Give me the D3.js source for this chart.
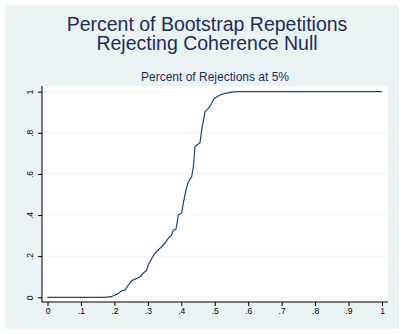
<!DOCTYPE html>
<html>
<head>
<meta charset="utf-8">
<script src="https://cdn.jsdelivr.net/npm/d3@7"></script>
<style>
  html, body { margin: 0; padding: 0; background: #ffffff; }
  svg { display: block; font-family: "Liberation Sans", Arial, sans-serif; }
</style>
</head>
<body>
<svg id="chart" width="404" height="334"></svg>
<script>
// Size of the test (x) and share of bootstrap repetitions rejecting the null at 5% (y)
const testSize = [0, 0.10, 0.17, 0.19, 0.202, 0.212, 0.222, 0.232, 0.242, 0.252, 0.267, 0.277,
  0.286, 0.296, 0.301, 0.312, 0.321, 0.331, 0.341, 0.351, 0.361, 0.371, 0.376, 0.384,
  0.388, 0.391, 0.401, 0.406, 0.414, 0.421, 0.431, 0.436, 0.441, 0.456, 0.461, 0.471,
  0.481, 0.491, 0.499, 0.516, 0.531, 0.555, 0.575, 0.70, 1.0];
const rejectShare = [0, 0, 0, 0.003, 0.011, 0.019, 0.032, 0.036, 0.060, 0.081, 0.092, 0.100,
  0.117, 0.130, 0.157, 0.190, 0.214, 0.230, 0.246, 0.263, 0.287, 0.303, 0.327, 0.331,
  0.368, 0.400, 0.410, 0.457, 0.522, 0.562, 0.587, 0.635, 0.733, 0.752, 0.814, 0.903,
  0.919, 0.944, 0.968, 0.984, 0.992, 0.999, 1.0, 1.0, 1.0];

const xTicks = [0, 0.1, 0.2, 0.3, 0.4, 0.5, 0.6, 0.7, 0.8, 0.9, 1];
const yTicks = [0, 0.2, 0.4, 0.6, 0.8, 1];
const titleLines = ["Percent of Bootstrap Repetitions", "Rejecting Coherence Null"];
const subtitle = "Percent of Rejections at 5%";

const fmt = v => v === 0 ? "0" : v === 1 ? "1" : String(v).replace(/^0/, "");

const svg = d3.select("#chart");
const W = 404, H = 334;

// graph region
svg.append("rect").attr("x", 5).attr("y", 5).attr("width", W - 10).attr("height", H - 10)
  .attr("fill", "#eaf2f3");

// plot region
const plot = { left: 42, right: 388, top: 86, bottom: 302 };
svg.append("rect").attr("x", plot.left).attr("y", plot.top)
  .attr("width", plot.right - plot.left).attr("height", plot.bottom - plot.top)
  .attr("fill", "#ffffff");

const x = d3.scaleLinear().domain([0, 1]).range([47.5, 382]);
const y = d3.scaleLinear().domain([0, 1]).range([297.3, 91.7]);

// horizontal grid
svg.append("g").selectAll("line").data(yTicks).join("line")
  .attr("x1", plot.left + 1).attr("x2", plot.right)
  .attr("y1", d => y(d)).attr("y2", d => y(d))
  .attr("stroke", "#eaf2f3").attr("stroke-width", 1);

// axes
const yAxis = svg.append("g").attr("transform", `translate(${plot.left},0)`)
  .call(d3.axisLeft(y).tickValues(yTicks).tickFormat(fmt).tickSize(4).tickPadding(4));
const xAxis = svg.append("g").attr("transform", `translate(0,${plot.bottom})`)
  .call(d3.axisBottom(x).tickValues(xTicks).tickFormat(fmt).tickSize(4).tickPadding(2));

[yAxis, xAxis].forEach(a => {
  a.select(".domain").remove();
  a.selectAll(".tick line").attr("stroke", "#000").attr("stroke-width", 1);
  a.selectAll(".tick text").attr("fill", "#000").attr("font-size", 8.5)
    .attr("font-family", "'Liberation Sans', Arial, sans-serif");
});
yAxis.selectAll(".tick text")
  .attr("transform", "rotate(-90)")
  .attr("x", 0).attr("y", -9)
  .attr("dy", "0").attr("text-anchor", "middle");

svg.append("line").attr("x1", plot.left).attr("x2", plot.left)
  .attr("y1", plot.top).attr("y2", plot.bottom + 0.5).attr("stroke", "#000").attr("stroke-width", 1);
svg.append("line").attr("x1", plot.left).attr("x2", plot.right)
  .attr("y1", plot.bottom).attr("y2", plot.bottom).attr("stroke", "#000").attr("stroke-width", 1);

// curve
const pts = testSize.map((v, i) => [v, rejectShare[i]]);
svg.append("path").datum(pts)
  .attr("fill", "none").attr("stroke", "#1a476f").attr("stroke-width", 1.2)
  .attr("stroke-linejoin", "round")
  .attr("d", d3.line().x(d => x(d[0])).y(d => y(d[1])));

// two-line title as one text block
svg.append("text").attr("text-anchor", "middle").attr("font-size", 19.5).attr("fill", "#1e2d5c")
  .selectAll("tspan").data(titleLines).join("tspan")
  .attr("x", 207).attr("y", (d, i) => 31 + i * 19)
  .text(d => d);
svg.append("text").attr("x", 215).attr("y", 81)
  .attr("text-anchor", "middle").attr("font-size", 12).attr("fill", "#1e2d5c")
  .text(subtitle);
</script>
</body>
</html>
